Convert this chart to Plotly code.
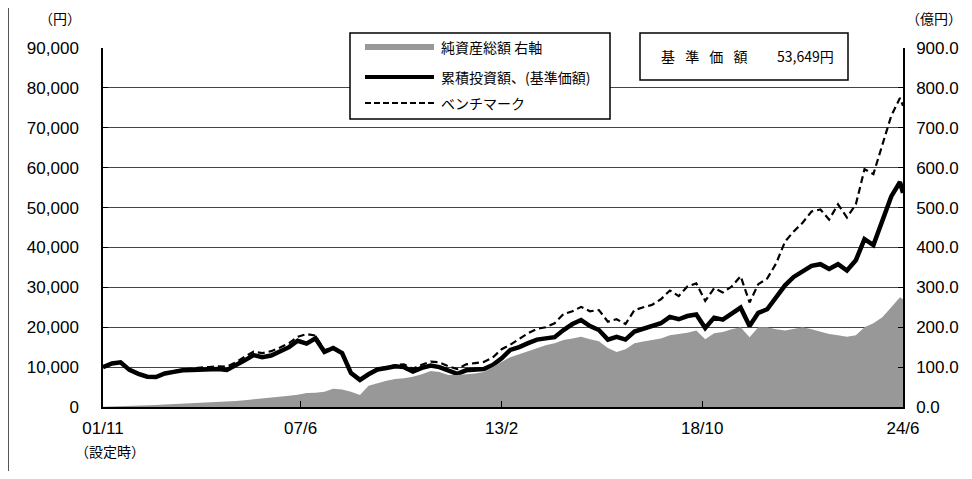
import pandas as pd
import plotly.graph_objects as go

# ---- data (quarterly points + final month) ----
dates = list(pd.date_range("2001-11-01", periods=91, freq="3MS").strftime("%Y-%m-%d")) + ["2024-06-01"]

fund_nav = [
    10000, 10900, 11200, 9300, 8300, 7600, 7500, 8400, 8800, 9200,
    9300, 9450, 9400, 9500, 9300, 10400, 11700, 13000, 12500, 12900,
    13900, 15000, 16600, 15900, 17200, 13800, 14800, 13500, 8500, 6800,
    8200, 9400, 9800, 10200, 10000, 8900, 9800, 10400, 10000, 9000,
    8300, 9200, 9300, 9500, 10500, 12200, 14300, 15000, 16000, 16900,
    17200, 17500, 19300, 20800, 21800, 20300, 19300, 16900, 17600, 16900,
    18900, 19700, 20200, 21000, 22600, 22000, 22800, 23200, 19800, 22400,
    21900, 23400, 24900, 20300, 23600, 24500, 27500, 30500, 32600, 34100,
    35400, 35800, 34600, 35800, 34200, 36800, 42100, 40600, 46500, 52800,
    56400, 53649,
]

benchmark = [
    10000, 10900, 11200, 9300, 8300, 7600, 7600, 8500, 9000, 9400,
    9600, 9900, 10000, 10200, 10100, 11200, 12600, 13900, 13500, 14000,
    14900, 16000, 17600, 18300, 17900, 14200, 15000, 13700, 8600, 6900,
    8300, 9500, 10000, 10500, 10700, 9600, 10600, 11400, 11200, 10200,
    9500, 10700, 11000, 11300, 12400, 14500, 15600, 17000, 18500, 19600,
    20000, 21000, 23300, 24000, 25100, 24000, 24300, 21400, 22000, 20800,
    24300, 25000, 25600, 27000, 29200, 27800, 30200, 31000, 26600, 29800,
    28700, 30200, 32800, 26200, 30800, 32200, 36000, 41500, 44000, 46200,
    49000, 49500, 47000, 50800, 47500, 50800, 59600, 58400, 66000, 73000,
    77500, 75500,
]

net_assets = [  # 億円
    0.5, 1, 2, 3, 4, 4.5, 5, 6, 7, 8,
    9, 10, 11, 12, 13, 15, 17, 19, 21, 23,
    26, 28, 31, 35, 36, 38, 46, 44, 38, 30,
    53, 60, 66, 70, 72, 76, 82, 90, 88, 80,
    80, 82, 84, 88, 100, 112, 125, 132, 140, 148,
    155, 160, 168, 172, 176, 170, 165, 148, 138, 145,
    160, 164, 168, 172, 180, 183, 186, 192, 170, 185,
    188, 195, 200, 175, 200, 200, 195, 192, 196, 200,
    195, 188, 183, 180, 176, 180, 200, 210, 225, 250,
    275, 270,
]

x_tick_vals = ["2001-11-01", "2007-06-01", "2013-02-01", "2018-10-01", "2024-06-01"]
x_tick_text = ["01/11", "07/6", "13/2", "18/10", "24/6"]
y_left_ticks = list(range(0, 90001, 10000))
y_right_ticks = list(range(0, 901, 100))

legend_labels = ["純資産総額 右軸", "累積投資額、(基準価額)", "ベンチマーク"]
nav_label = "基\u2002 準\u2002 価\u2002 額"
nav_value_text = "53,649円"

# ---- layout helpers (page pixel -> paper); page has an 8px body margin ----
OFF = 8
L, R, T, B = 103, 903, 48, 407
def px(x):
    return (x - L) / (R - L)
def py(y):
    return (B - y) / (B - T)

JP = "Noto Sans CJK JP"
NUM = "Liberation Sans, Arial"
GRAY = "#989898"

fig = go.Figure()

fig.add_trace(go.Scatter(
    x=dates, y=net_assets, yaxis="y2", mode="lines",
    line=dict(color=GRAY, width=0), fill="tozeroy", fillcolor=GRAY,
    name=legend_labels[0], showlegend=False,
))
fig.add_trace(go.Scatter(
    x=dates, y=benchmark, mode="lines",
    line=dict(color="black", width=2.2, dash="7px,4px"),
    name=legend_labels[2], showlegend=False,
))
fig.add_trace(go.Scatter(
    x=dates, y=fund_nav, mode="lines",
    line=dict(color="black", width=4.5),
    name=legend_labels[1], showlegend=False,
))

shapes = []
annotations = []

# outer frame left edge
shapes.append(dict(type="line", xref="paper", yref="paper",
                   x0=px(8.5), x1=px(8.5), y0=py(8), y1=py(479),
                   line=dict(color="#555", width=1)))

# legend box
shapes.append(dict(type="rect", xref="paper", yref="paper",
                   x0=px(350), x1=px(610), y0=py(33), y1=py(119),
                   fillcolor="white", line=dict(color="black", width=1.5), layer="above"))
shapes.append(dict(type="rect", xref="paper", yref="paper",
                   x0=px(365), x1=px(434), y0=py(44), y1=py(50),
                   fillcolor=GRAY, line=dict(width=0), layer="above"))
shapes.append(dict(type="line", xref="paper", yref="paper",
                   x0=px(365), x1=px(434), y0=py(77), y1=py(77),
                   line=dict(color="black", width=4), layer="above"))
shapes.append(dict(type="line", xref="paper", yref="paper",
                   x0=px(365), x1=px(434), y0=py(103), y1=py(103),
                   line=dict(color="black", width=2, dash="6px,3px"), layer="above"))
for lbl, yy in zip(legend_labels, [47, 77, 103]):
    annotations.append(dict(xref="paper", yref="paper", x=px(439), y=py(yy),
                            text=lbl, showarrow=False, xanchor="left", yanchor="middle",
                            font=dict(family=JP, size=14, color="black")))

# NAV box
shapes.append(dict(type="rect", xref="paper", yref="paper",
                   x0=px(640), x1=px(848), y0=py(33), y1=py(80),
                   fillcolor="white", line=dict(color="black", width=1.5), layer="above"))
annotations.append(dict(xref="paper", yref="paper", x=px(659), y=py(56),
                        text=nav_label, showarrow=False, xanchor="left", yanchor="middle",
                        font=dict(family=JP, size=14, color="black")))
annotations.append(dict(xref="paper", yref="paper", x=px(836), y=py(56),
                        text=nav_value_text, showarrow=False, xanchor="right", yanchor="middle",
                        font=dict(family=JP, size=14, color="black")))

# unit labels
annotations.append(dict(xref="paper", yref="paper", x=px(60), y=py(18),
                        text="（円）", showarrow=False, xanchor="center", yanchor="middle",
                        font=dict(family=JP, size=14, color="black")))
annotations.append(dict(xref="paper", yref="paper", x=px(934), y=py(18),
                        text="（億円）", showarrow=False, xanchor="center", yanchor="middle",
                        font=dict(family=JP, size=14, color="black")))
annotations.append(dict(xref="paper", yref="paper", x=px(110), y=py(451),
                        text="（設定時）", showarrow=False, xanchor="center", yanchor="middle",
                        font=dict(family=JP, size=14, color="black")))

W, H = 972 - 2 * OFF, 479 - 2 * OFF
fig.update_layout(
    width=W, height=H,
    margin=dict(l=L - OFF, r=W - (R - OFF), t=T - OFF, b=H - (B - OFF), autoexpand=False),
    paper_bgcolor="white", plot_bgcolor="white",
    showlegend=False,
    shapes=shapes, annotations=annotations,
    xaxis=dict(
        type="date", range=["2001-11-01", "2024-06-01"],
        tickvals=x_tick_vals, ticktext=x_tick_text,
        ticks="inside", ticklen=6, tickcolor="black",
        showline=True, linecolor="black", linewidth=1.5,
        showgrid=False, zeroline=False,
        tickfont=dict(family="Liberation Sans Narrow, Liberation Sans", size=17, color="black"),
        ticklabelstandoff=5,
    ),
    yaxis=dict(
        range=[0, 90000], tickvals=y_left_ticks, tickformat=",d",
        ticks="inside", ticklen=5, tickcolor="black",
        showline=True, linecolor="black", linewidth=1.5,
        showgrid=True, gridcolor="#444", gridwidth=1, zeroline=False,
        tickfont=dict(family=NUM, size=17, color="black"),
        ticklabelstandoff=19,
    ),
    yaxis2=dict(
        range=[0, 900], tickvals=y_right_ticks, tickformat=".1f",
        overlaying="y", side="right",
        ticks="inside", ticklen=5, tickcolor="black",
        showline=True, linecolor="black", linewidth=1.5,
        showgrid=False, zeroline=False,
        tickfont=dict(family=NUM, size=17, color="black"),
        ticklabelstandoff=8,
    ),
)

fig.write_html("out.html")
